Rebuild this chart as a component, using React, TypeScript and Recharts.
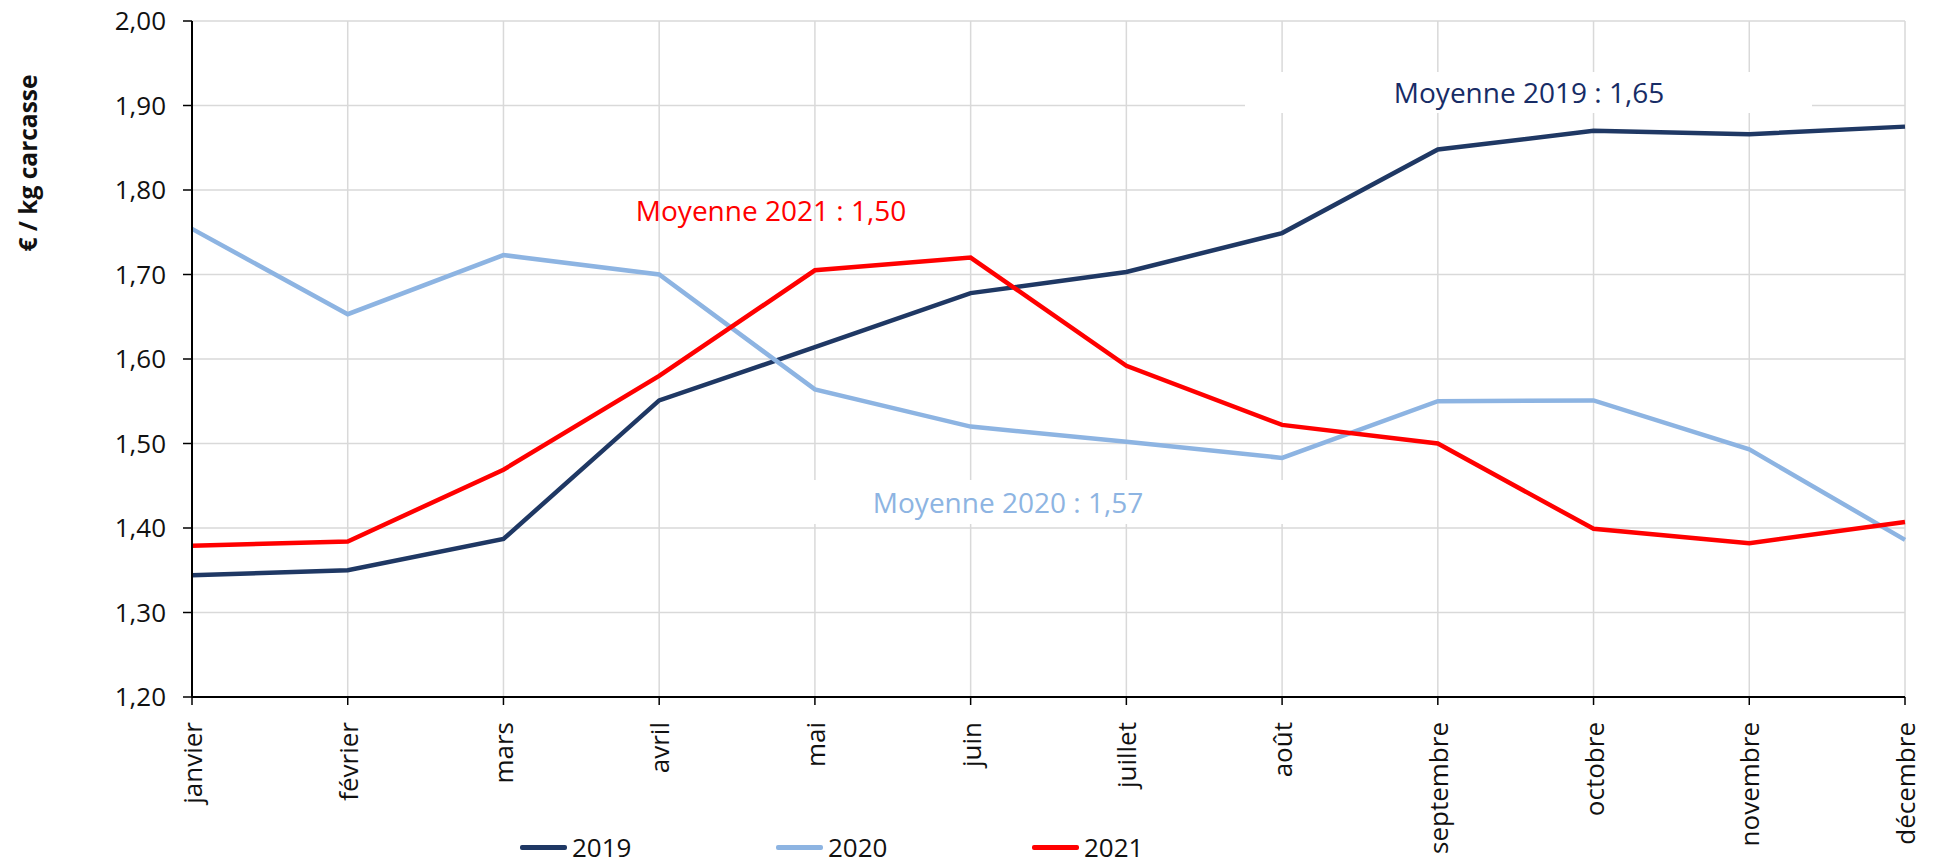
import React from "react";
import {
  LineChart,
  Line,
  XAxis,
  YAxis,
  CartesianGrid,
  Legend,
  Customized,
} from "recharts";

const months = [
  "janvier",
  "février",
  "mars",
  "avril",
  "mai",
  "juin",
  "juillet",
  "août",
  "septembre",
  "octobre",
  "novembre",
  "décembre",
];

const prix2019 = [1.344, 1.35, 1.387, 1.551, 1.614, 1.678, 1.703, 1.749, 1.848, 1.87, 1.866, 1.875];
const prix2020 = [1.754, 1.653, 1.723, 1.7, 1.564, 1.52, 1.502, 1.483, 1.55, 1.551, 1.493, 1.386];
const prix2021 = [1.379, 1.384, 1.469, 1.58, 1.705, 1.72, 1.592, 1.522, 1.5, 1.399, 1.382, 1.407];

const yTicks = [1.2, 1.3, 1.4, 1.5, 1.6, 1.7, 1.8, 1.9, 2.0];

const averages = [
  { label: "Moyenne 2019 : 1,65", color: "#172C66" },
  { label: "Moyenne 2020 : 1,57", color: "#8DB4E2" },
  { label: "Moyenne 2021 : 1,50", color: "#FF0000" },
];

const COLORS = { y2019: "#1F3864", y2020: "#8DB4E2", y2021: "#FF0000" };
const FONT = "'Open Sans', sans-serif";

const data = months.map((m, i) => ({
  mois: m,
  "2019": prix2019[i],
  "2020": prix2020[i],
  "2021": prix2021[i],
}));

const fmt = (v: number) => v.toFixed(2).replace(".", ",");

function MonthTick(props: any) {
  const { x, y, payload } = props;
  return (
    <text
      x={x}
      y={y}
      transform={`rotate(-90 ${x} ${y})`}
      textAnchor="end"
      dominantBaseline="central"
      fontFamily={FONT}
      fontSize={26}
      fill="#111"
    >
      {payload.value}
    </text>
  );
}

function YTitle() {
  return (
    <text
      x={27}
      y={163}
      transform="rotate(-90 27 163)"
      textAnchor="middle"
      dominantBaseline="central"
      fontFamily={FONT}
      fontWeight={700}
      fontSize={24.5}
      fill="#111"
    >
      € / kg carcasse
    </text>
  );
}

// étiquettes des moyennes, comme dans le graphique d'origine
function Annotations() {
  return (
    <g fontFamily={FONT} fontSize={28} textAnchor="middle">
      <rect x={1245} y={72} width={567} height={41} fill="#fff" />
      <text x={1529} y={103} fill={averages[0].color}>
        {averages[0].label}
      </text>
      <rect x={725} y={480} width={566} height={44} fill="#fff" />
      <text x={1008} y={513} fill={averages[1].color}>
        {averages[1].label}
      </text>
      <text x={771} y={221} fill={averages[2].color}>
        {averages[2].label}
      </text>
    </g>
  );
}

function LegendContent(props: any) {
  const { payload = [] } = props;
  return (
    <div
      style={{
        display: "flex",
        alignItems: "center",
        height: 36,
        paddingLeft: 520,
        fontFamily: FONT,
        fontSize: 26,
        color: "#111",
      }}
    >
      {payload.map((p: any) => (
        <div key={p.value} style={{ width: 256, display: "flex", alignItems: "center" }}>
          <span
            style={{
              display: "inline-block",
              width: 47,
              height: 5,
              borderRadius: 2,
              background: p.color,
            }}
          />
          <span style={{ marginLeft: 5 }}>{p.value}</span>
        </div>
      ))}
    </div>
  );
}

export default function App() {
  return (
    <div style={{ position: "absolute", left: 0, top: 0, background: "#fff" }}>
      <LineChart
        width={1942}
        height={865}
        data={data}
        margin={{ top: 21, right: 37, bottom: 0, left: 0 }}
      >
        <CartesianGrid stroke="#D9D9D9" strokeWidth={1.5} />
        <Customized component={Annotations} />
        <XAxis
          dataKey="mois"
          height={132}
          interval={0}
          tick={<MonthTick />}
          tickSize={8}
          tickMargin={17}
          axisLine={{ stroke: "#000", strokeWidth: 2 }}
          tickLine={{ stroke: "#000", strokeWidth: 1.5 }}
        />
        <YAxis
          width={192}
          domain={[1.2, 2.0]}
          ticks={yTicks}
          tickFormatter={fmt}
          tickSize={9}
          tickMargin={17}
          tick={{ fontFamily: FONT, fontSize: 26, fill: "#111" }}
          axisLine={{ stroke: "#000", strokeWidth: 2 }}
          tickLine={{ stroke: "#000", strokeWidth: 1.5 }}
          label={<YTitle />}
        />
        <Legend
          verticalAlign="bottom"
          content={<LegendContent />}
          wrapperStyle={{ left: 0, bottom: 0, width: 1942 }}
        />
        <Line
          dataKey="2019"
          name="2019"
          stroke={COLORS.y2019}
          strokeWidth={4.5}
          dot={false}
          isAnimationActive={false}
        />
        <Line
          dataKey="2020"
          name="2020"
          stroke={COLORS.y2020}
          strokeWidth={4.5}
          dot={false}
          isAnimationActive={false}
        />
        <Line
          dataKey="2021"
          name="2021"
          stroke={COLORS.y2021}
          strokeWidth={4.5}
          dot={false}
          isAnimationActive={false}
        />
      </LineChart>
    </div>
  );
}
